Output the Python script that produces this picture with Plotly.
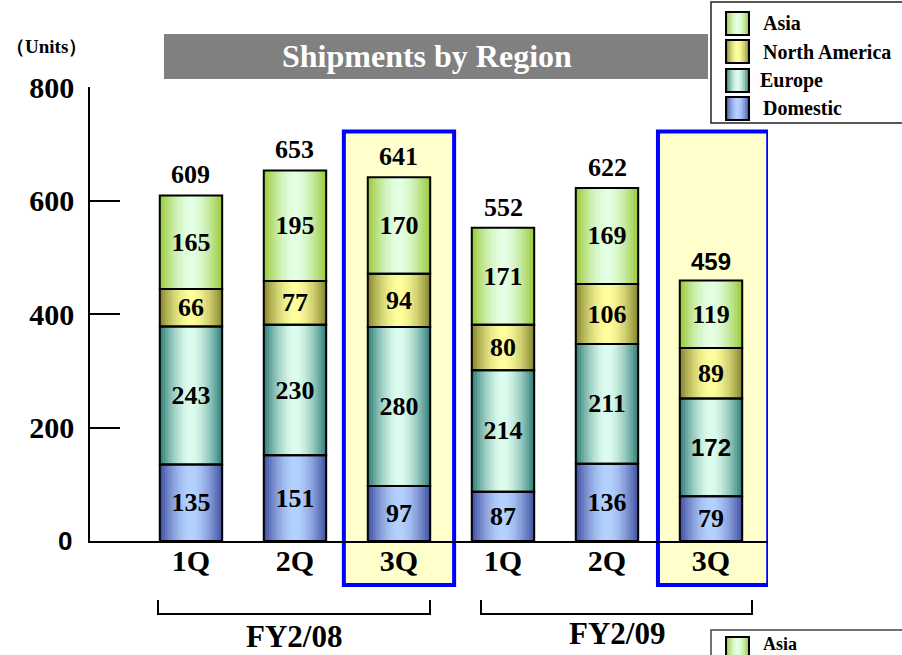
import plotly.graph_objects as go

# ---------------- data ----------------
quarters = ["1Q", "2Q", "3Q", "1Q", "2Q", "3Q"]
domestic = [135, 151, 97, 87, 136, 79]
europe = [243, 230, 280, 214, 211, 172]
north_america = [66, 77, 94, 80, 106, 89]
asia = [165, 195, 170, 171, 169, 119]
series_names = ["Domestic", "Europe", "North America", "Asia"]
fiscal_years = ["FY2/08", "FY2/09"]
y_ticks = [200, 400, 600, 800]
highlighted = [2, 5]
sans_points = {"Europe": [5]}  # labels drawn in sans font in the original
sans_totals = [5]

# ---------------- style ----------------
SERIF = "Times New Roman, Liberation Serif, serif"
SANS = "Arial, Liberation Sans, sans-serif"
colors = {
    "Domestic": ("#3F4C9E", "#B4D2FF"),
    "Europe": ("#2B7A76", "#DDFDEE"),
    "North America": ("#85832A", "#FFFF9E"),
    "Asia": ("#96C832", "#E4FFE4"),
}
W, H = 902, 655
ML, MR, MT, MB = 90, 134, 87, 114
BAR_W = 0.6
N_LAYERS = 12


def px(x):
    return (x - ML) / (W - ML - MR)


def py(y):
    return (H - MB - y) / (H - MT - MB)


def hex2rgb(h):
    h = h.lstrip("#")
    return tuple(int(h[i:i + 2], 16) for i in (0, 2, 4))


def mix(edge, center, t):
    a, b = hex2rgb(center), hex2rgb(edge)
    return "rgb(%d,%d,%d)" % tuple(round(a[i] + (b[i] - a[i]) * t) for i in range(3))


def grad(edge, center, k, n, power=1.7):
    t = 1 - (k + 0.5) / n
    return mix(edge, center, t ** power)


values = {"Domestic": domestic, "Europe": europe, "North America": north_america, "Asia": asia}
xs = list(range(len(quarters)))
totals = [sum(v) for v in zip(domestic, europe, north_america, asia)]

fig = go.Figure()

base = [0] * len(xs)
bases = {}
for name in series_names:
    bases[name] = list(base)
    base = [b + v for b, v in zip(base, values[name])]

# gradient layers
for name in series_names:
    edge, center = colors[name]
    for k in range(N_LAYERS):
        fig.add_trace(go.Bar(
            x=xs, y=values[name], base=bases[name],
            width=BAR_W * (1 - k / N_LAYERS),
            marker=dict(color=grad(edge, center, k, N_LAYERS), line=dict(width=0)),
            showlegend=False, hoverinfo="skip",
        ))

# outlines + labels
for name in series_names:
    fams = [SANS if i in sans_points.get(name, []) else SERIF for i in xs]
    sizes = [24 if i in sans_points.get(name, []) else 26 for i in xs]
    fig.add_trace(go.Bar(
        x=xs, y=values[name], base=bases[name], width=BAR_W, name=name,
        marker=dict(color="rgba(0,0,0,0)", line=dict(color="black", width=2)),
        text=[f"<b>{v}</b>" for v in values[name]],
        textposition="inside", insidetextanchor="middle", textangle=0,
        constraintext="none",
        textfont=dict(family=fams, size=sizes, color="black"),
        showlegend=False, hoverinfo="skip",
    ))

annotations = []
for i, t in zip(xs, totals):
    annotations.append(dict(
        x=i, y=t, xref="x", yref="y", text=f"<b>{t}</b>", showarrow=False,
        xanchor="center", yanchor="bottom", yshift=4,
        font=dict(family=SANS if i in sans_totals else SERIF,
                  size=24 if i in sans_totals else 26, color="black")))


def text_at(x, y, text, family, size, color="black", xanchor="center"):
    annotations.append(dict(x=px(x), y=py(y), xref="paper", yref="paper",
                            xanchor=xanchor, yanchor="middle", text=text, showarrow=False,
                            font=dict(family=family, size=size, color=color)))


shapes = []
# highlight boxes
box_shift = {2: 0.0, 5: 0.02}
for i in highlighted:
    c = i + box_shift[i]
    shapes.append(dict(type="rect", xref="x", yref="paper",
                       x0=c - 0.53, x1=c + 0.53, y0=py(585), y1=py(131.5),
                       line=dict(color="#0000FF", width=4), fillcolor="#FFFFCC",
                       layer="below"))

# fiscal-year brackets
for (x0, x1), label, ly in zip([(158, 430), (481, 752)], fiscal_years, [636, 633]):
    shapes.append(dict(type="path", xref="paper", yref="paper",
                       path=f"M {px(x0)} {py(600)} L {px(x0)} {py(614)} L {px(x1)} {py(614)} L {px(x1)} {py(600)}",
                       line=dict(color="black", width=2)))
    text_at((x0 + x1) / 2, ly, f"<b>{label}</b>", SERIF, 31)

# title bar
shapes.append(dict(type="rect", xref="paper", yref="paper",
                   x0=px(164), x1=px(708), y0=py(79), y1=py(34),
                   line=dict(width=0), fillcolor="#808080"))
text_at(427, 56, "<b>Shipments by Region</b>", SERIF, 32, "white")

# units
text_at(46, 47, "<b>（Units）</b>", SERIF, 19)
# zero tick label
annotations.append(dict(x=px(74), y=0, xref="paper", yref="y", xanchor="right", yanchor="middle",
                        text="<b>0</b>", showarrow=False,
                        font=dict(family=SANS, size=26, color="black")))


def swatch(x0, y0, name, size=23):
    edge, center = colors[name]
    n = 6
    for k in range(n):
        w = size * (1 - k / n)
        cx = x0 + size / 2
        shapes.append(dict(type="rect", xref="paper", yref="paper",
                           x0=px(cx - w / 2), x1=px(cx + w / 2), y0=py(y0 + size), y1=py(y0),
                           line=dict(width=0), fillcolor=grad(edge, center, k, n)))
    shapes.append(dict(type="rect", xref="paper", yref="paper",
                       x0=px(x0), x1=px(x0 + size), y0=py(y0 + size), y1=py(y0),
                       line=dict(color="black", width=2)))


# legend (top right)
shapes.append(dict(type="rect", xref="paper", yref="paper",
                   x0=px(711), x1=px(910), y0=py(123), y1=py(2),
                   line=dict(color="#222222", width=1.5), fillcolor="white"))
leg_rows = [("Asia", 12, 761), ("North America", 40, 761), ("Europe", 69, 758), ("Domestic", 97, 761)]
for name, y0, tx in leg_rows:
    swatch(726, y0, name)
    text_at(tx, y0 + 11.5, f"<b>{name}</b>", SERIF, 20, xanchor="left")

# second legend, at the bottom edge
shapes.append(dict(type="rect", xref="paper", yref="paper",
                   x0=px(711), x1=px(910), y0=py(760), y1=py(630),
                   line=dict(color="#444444", width=1.5), fillcolor="white"))
swatch(726, 637, "Asia")
text_at(761, 644, "<b>Asia</b>", SERIF, 18, xanchor="left")

fig.update_layout(
    width=W, height=H,
    margin=dict(l=ML, r=MR, t=MT, b=MB, pad=0),
    barmode="overlay",
    paper_bgcolor="white", plot_bgcolor="rgba(0,0,0,0)",
    showlegend=False,
    shapes=shapes, annotations=annotations,
    xaxis=dict(range=[-0.971, 5.548], tickvals=xs, ticktext=[f"<b>{q}</b>" for q in quarters],
               showline=True, linecolor="black", linewidth=1.5, ticks="",
               showgrid=False, zeroline=False,
               tickfont=dict(family=SERIF, size=30, color="black"), ticklabelstandoff=-8),
    yaxis=dict(range=[0, 800], tickvals=y_ticks, ticktext=[f"<b>{t}</b>" for t in y_ticks],
               showline=True, linecolor="black", linewidth=1.5,
               ticks="inside", ticklen=30, tickwidth=1.5, tickcolor="black",
               showgrid=False, zeroline=False,
               tickfont=dict(family=SERIF, size=30, color="black"), ticklabelstandoff=8),
)

fig.write_html("out.html", config={"displayModeBar": False},
               post_script="document.body.style.margin='0px';")
